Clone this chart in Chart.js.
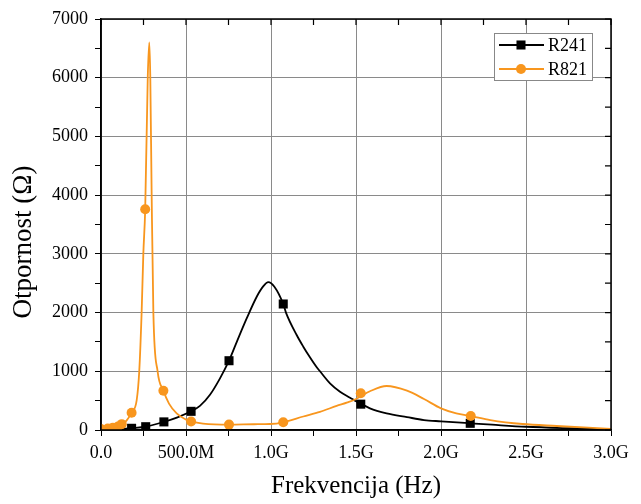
<!DOCTYPE html>
<html lang="sr">
<head>
  <meta charset="UTF-8">
  <title>Otpornost - Frekvencija</title>
  <script src="https://cdn.jsdelivr.net/npm/chart.js"></script>
  <style>
    body {
      margin: 0;
      background: #ffffff;
    }
    .wrap {
      position: relative;
      width: 641px;
      height: 504px;
    }
  </style>
</head>
<body>
  <div class="wrap">
    <canvas id="chart"></canvas>
  </div>

  <script>
    // frekvencija u GHz, otpornost u ohmima (ocitano sa slike)
    const r241Freq = [0.0, 0.1, 0.18, 0.263, 0.37, 0.45, 0.53, 0.582, 0.641, 0.7, 0.753, 0.8, 0.857, 0.916, 0.955, 0.984, 1.02, 1.072, 1.088, 1.151, 1.19, 1.229, 1.269, 1.288, 1.347, 1.406, 1.465, 1.494, 1.528, 1.582, 1.68, 1.8, 1.9, 2.0, 2.172, 2.3, 2.5, 2.75, 3.0];
    const r241Ohm  = [0, 8, 29, 56, 138, 215, 318, 410, 600, 880, 1180, 1510, 1900, 2270, 2450, 2520, 2440, 2146, 2000, 1618, 1419, 1238, 1068, 1000, 795, 652, 550, 499, 450, 369, 284, 220, 170, 148, 114, 90, 55, 30, 12];

    const r821Freq = [0.0, 0.04, 0.07, 0.1, 0.122, 0.15, 0.18, 0.21, 0.225, 0.239, 0.249, 0.26, 0.275, 0.284, 0.29, 0.298, 0.308, 0.333, 0.367, 0.4, 0.445, 0.504, 0.53, 0.6, 0.753, 0.9, 0.994, 1.072, 1.19, 1.288, 1.386, 1.45, 1.494, 1.528, 1.582, 1.68, 1.8, 1.9, 2.0, 2.09, 2.175, 2.29, 2.48, 2.68, 3.0];
    const r821Ohm  = [15, 25, 40, 60, 100, 160, 295, 510, 1000, 2000, 3000, 3760, 6000, 6600, 6000, 4000, 2000, 1000, 670, 450, 284, 170, 145, 110, 92, 98, 102, 131, 230, 310, 410, 470, 520, 575, 660, 749, 670, 528, 369, 284, 238, 170, 102, 68, 20];

    // tacke sa markerima
    const r241MarkFreq = [0.18, 0.263, 0.37, 0.53, 0.753, 1.072, 1.528, 2.172];
    const r241MarkOhm  = [29, 56, 138, 318, 1180, 2146, 440, 114];
    const r821MarkFreq = [0.0, 0.04, 0.07, 0.1, 0.122, 0.18, 0.26, 0.367, 0.53, 0.753, 1.072, 1.528, 2.175];
    const r821MarkOhm  = [15, 25, 40, 60, 100, 295, 3760, 670, 145, 92, 131, 625, 238];

    const seriesNames = ['R241', 'R821'];
    const yTitle = 'Otpornost (Ω)';
    const black = '#000000';
    const orange = '#F8961E';

    function toPoints(xs, ys) {
      return xs.map((x, i) => ({ x: x, y: ys[i] }));
    }

    function xLabel(v) {
      if (Math.abs(v % 0.5) > 1e-9) return '';
      if (v === 0) return '0.0';
      if (v < 1) return (v * 1000).toFixed(1) + 'M';
      return v.toFixed(1) + 'G';
    }

    Chart.defaults.font.family = "'Liberation Serif', 'DejaVu Serif', serif";
    Chart.defaults.color = '#000';

    // okvir + unutrasnji tickovi gore i desno
    const framePlugin = {
      id: 'frame',
      afterDatasetsDraw(chart) {
        const { ctx, chartArea: a, scales } = chart;
        ctx.save();
        ctx.strokeStyle = '#000';
        ctx.lineWidth = 1.5;
        ctx.strokeRect(a.left, a.top, a.right - a.left, a.bottom - a.top);
        ctx.lineWidth = 1.2;
        ctx.beginPath();
        scales.x.ticks.forEach(t => {
          const px = scales.x.getPixelForValue(t.value);
          ctx.moveTo(px, a.top);
          ctx.lineTo(px, a.top + 6);
        });
        scales.y.ticks.forEach(t => {
          const py = scales.y.getPixelForValue(t.value);
          ctx.moveTo(a.right, py);
          ctx.lineTo(a.right - 6, py);
        });
        ctx.stroke();
        ctx.restore();
      }
    };

    // naslov y ose, malo ispod sredine kao na originalu
    const yTitlePlugin = {
      id: 'yTitle',
      afterDraw(chart) {
        const ctx = chart.ctx;
        ctx.save();
        ctx.translate(24, 242);
        ctx.rotate(-Math.PI / 2);
        ctx.font = "27px 'Liberation Serif'";
        ctx.fillStyle = '#000';
        ctx.textAlign = 'center';
        ctx.textBaseline = 'middle';
        ctx.fillText(yTitle, 0, 0);
        ctx.restore();
      }
    };

    // legenda sa linijom i markerom
    const legendPlugin = {
      id: 'lineLegend',
      afterDraw(chart) {
        const ctx = chart.ctx;
        const box = { x: 494, y: 33, w: 98, h: 47 };
        ctx.save();
        ctx.fillStyle = '#fff';
        ctx.fillRect(box.x, box.y, box.w, box.h);
        ctx.strokeStyle = '#888';
        ctx.lineWidth = 1;
        ctx.strokeRect(box.x + 0.5, box.y + 0.5, box.w, box.h);
        const rows = [
          { y: box.y + 12, color: black, style: 'rect', r: 6.4 },
          { y: box.y + 36, color: orange, style: 'circle', r: 5 }
        ];
        rows.forEach((row, i) => {
          ctx.strokeStyle = row.color;
          ctx.lineWidth = 1.8;
          ctx.beginPath();
          ctx.moveTo(box.x + 5, row.y);
          ctx.lineTo(box.x + 50, row.y);
          ctx.stroke();
          ctx.fillStyle = row.color;
          Chart.helpers.drawPoint(ctx, { pointStyle: row.style, radius: row.r, borderWidth: 0 }, box.x + 27, row.y);
          ctx.fillStyle = '#000';
          ctx.font = "18px 'Liberation Serif'";
          ctx.textBaseline = 'middle';
          ctx.fillText(seriesNames[i], box.x + 54, row.y + 1);
        });
        ctx.restore();
      }
    };

    new Chart(document.getElementById('chart'), {
      type: 'scatter',
      data: {
        datasets: [
          {
            label: seriesNames[1] + ' markers',
            data: toPoints(r821MarkFreq, r821MarkOhm),
            showLine: false,
            pointStyle: 'circle',
            pointRadius: 5,
            backgroundColor: orange,
            borderWidth: 0,
            order: 1
          },
          {
            label: seriesNames[1],
            data: toPoints(r821Freq, r821Ohm),
            showLine: true,
            borderColor: orange,
            borderWidth: 1.8,
            pointRadius: 0,
            cubicInterpolationMode: 'monotone',
            order: 2
          },
          {
            label: seriesNames[0] + ' markers',
            data: toPoints(r241MarkFreq, r241MarkOhm),
            showLine: false,
            pointStyle: 'rect',
            pointRadius: 6.4,
            backgroundColor: black,
            borderWidth: 0,
            order: 3
          },
          {
            label: seriesNames[0],
            data: toPoints(r241Freq, r241Ohm),
            showLine: true,
            borderColor: black,
            borderWidth: 1.8,
            pointRadius: 0,
            cubicInterpolationMode: 'monotone',
            order: 4
          }
        ]
      },
      options: {
        responsive: true,
        maintainAspectRatio: false,
        animation: false,
        layout: { padding: { top: 19, right: 30, left: 0, bottom: 0 } },
        plugins: {
          legend: { display: false },
          tooltip: { enabled: false }
        },
        scales: {
          x: {
            type: 'linear',
            min: 0,
            max: 3,
            afterFit: s => { s.height = 74; },
            ticks: {
              stepSize: 0.25,
              autoSkip: false,
              maxRotation: 0,
              padding: 6,
              font: { size: 18 },
              callback: v => xLabel(v)
            },
            grid: {
              color: c => (c.tick && Math.abs(c.tick.value % 0.5) < 1e-9) ? '#8a8a8a' : 'transparent',
              tickColor: '#000',
              tickLength: 6,
              lineWidth: 1
            },
            border: { color: '#000', width: 1.5 },
            title: {
              display: true,
              text: 'Frekvencija (Hz)',
              font: { size: 25 },
              padding: { top: 0, bottom: 3 }
            }
          },
          y: {
            min: 0,
            max: 7000,
            afterFit: s => { s.width = 101; },
            ticks: {
              stepSize: 500,
              autoSkip: false,
              padding: 7,
              font: { size: 18 },
              callback: v => (v % 1000 === 0 ? String(v) : '')
            },
            grid: {
              color: c => (c.tick && c.tick.value % 1000 === 0) ? '#8a8a8a' : 'transparent',
              tickColor: '#000',
              tickLength: 6,
              lineWidth: 1
            },
            border: { color: '#000', width: 1.5 }
          }
        }
      },
      plugins: [framePlugin, yTitlePlugin, legendPlugin]
    });
  </script>
</body>
</html>
